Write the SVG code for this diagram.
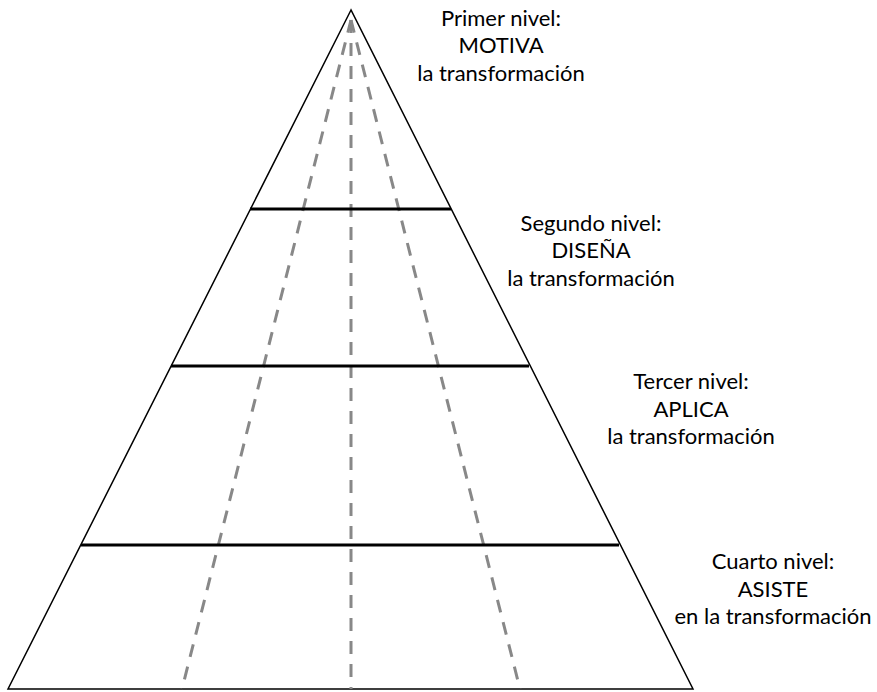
<svg xmlns="http://www.w3.org/2000/svg" width="877" height="692" viewBox="0 0 877 692">
<style>
.edge{fill:none;stroke:#000;stroke-width:1.5}
.level{stroke:#000;stroke-width:3}
.dash{stroke:#888;stroke-width:3;stroke-dasharray:13 10;fill:none}
.lbl{font-family:Lato,"Open Sans",sans-serif;font-size:22px;fill:#000;text-anchor:middle}
</style>
<rect width="877" height="692" fill="#fff"/>
<g id="pyramid">
<polygon class="edge" points="351,10 8,689 693,689"/>
</g>
<g id="connectors">
<line class="dash" x1="351" y1="20" x2="182" y2="689"/>
<line class="dash" x1="351" y1="20" x2="351" y2="689"/>
<line class="dash" x1="351" y1="20" x2="520" y2="689"/>
<line class="level" x1="250" y1="209" x2="451" y2="209"/>
<line class="level" x1="171" y1="366" x2="529" y2="366"/>
<line class="level" x1="81" y1="545" x2="619" y2="545"/>
</g>
<g id="level1">
<text class="lbl" x="501" y="26">Primer nivel:</text>
<text class="lbl" x="501" y="53">MOTIVA</text>
<text class="lbl" x="501" y="81">la transformación</text>
</g>
<g id="level2">
<text class="lbl" x="591" y="231">Segundo nivel:</text>
<text class="lbl" x="591" y="258">DISEÑA</text>
<text class="lbl" x="591" y="286">la transformación</text>
</g>
<g id="level3">
<text class="lbl" x="691" y="389">Tercer nivel:</text>
<text class="lbl" x="691" y="417">APLICA</text>
<text class="lbl" x="691" y="444">la transformación</text>
</g>
<g id="level4">
<text class="lbl" x="773" y="569">Cuarto nivel:</text>
<text class="lbl" x="773" y="597">ASISTE</text>
<text class="lbl" x="773" y="624">en la transformación</text>
</g>
</svg>
